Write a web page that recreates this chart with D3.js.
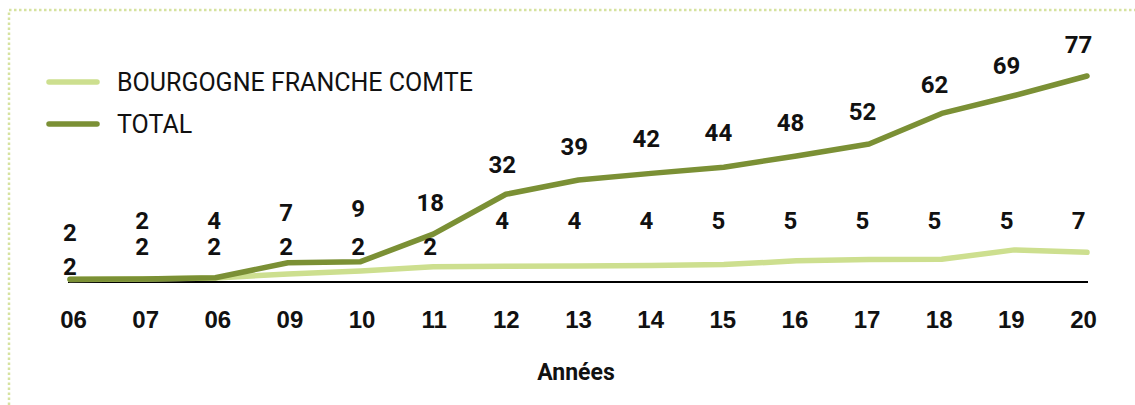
<!DOCTYPE html>
<html lang="fr">
  <head>
    <meta charset="utf-8">
    <title>Bourgogne Franche Comte vs Total</title>
    <script src="https://d3js.org/d3.v7.min.js"></script>
    <style>
      body {
        margin: 0;
        background: #ffffff;
      }
      svg {
        display: block;
        font-family: 'Roboto', 'Open Sans', sans-serif;
      }
      .num {
        font-weight: 700;
        font-size: 24px;
        fill: #111;
      }
    </style>
  </head>
  <body>
    <script>
      // data
      const years = ["06", "07", "06", "09", "10", "11", "12", "13", "14", "15", "16", "17", "18", "19", "20"];
      const totalLabels = [2, 2, 4, 7, 9, 18, 32, 39, 42, 44, 48, 52, 62, 69, 77];
      const bfcLabels = [2, 2, 2, 2, 2, 2, 4, 4, 4, 5, 5, 5, 5, 5, 7];
      // line heights as drawn (they do not follow the labels exactly)
      const totalLine = [1.0, 1.1, 1.6, 7.2, 7.6, 17.9, 32.8, 38.1, 40.6, 42.9, 47.1, 51.6, 63, 69.7, 77];
      const bfcLine = [0.9, 1.1, 1.5, 3.0, 4.1, 5.7, 5.9, 6.0, 6.2, 6.5, 7.9, 8.4, 8.5, 12, 11.1];
      const seriesNames = ["BOURGOGNE FRANCHE COMTE", "TOTAL"];

      const w = 1135;
      const h = 405;
      const lightGreen = "#cddf8f";
      const darkGreen = "#7b9035";

      const svg = d3.select("body").append("svg")
        .attr("width", w)
        .attr("height", h);

      // dotted frame (right and bottom edges run off the picture)
      svg.append("rect")
        .attr("x", 9).attr("y", 10)
        .attr("width", w + 20).attr("height", h + 20)
        .attr("fill", "none")
        .attr("stroke", "#d6e29f")
        .attr("stroke-width", 2.5)
        .attr("stroke-dasharray", "2.5 2.5");

      const x = d3.scalePoint()
        .domain(d3.range(years.length))
        .range([70, 1087]);

      const y = d3.scaleLinear()
        .domain([0, 77])
        .range([282, 76]);

      // baseline
      svg.append("line")
        .attr("x1", 68).attr("x2", 1088)
        .attr("y1", y(0)).attr("y2", y(0))
        .attr("stroke", "#000")
        .attr("stroke-width", 2);

      // x tick labels
      const xAxis = svg.append("g")
        .attr("transform", `translate(0,${y(0)})`)
        .call(d3.axisBottom(x).tickSize(0).tickPadding(46).tickFormat(i => years[i]));
      xAxis.select(".domain").remove();
      xAxis.selectAll("text")
        .attr("class", "num")
        .attr("font-family", null)
        .attr("font-size", null)
        .attr("fill", null)
        .attr("dy", "0")
        .attr("transform", (d, i) => `translate(${3 - i * 0.5},0)`);

      const line = d3.line()
        .x((d, i) => x(i))
        .y(d => y(d));

      svg.append("path")
        .datum(bfcLine)
        .attr("d", line)
        .attr("fill", "none")
        .attr("stroke", lightGreen)
        .attr("stroke-width", 5.5)
        .attr("stroke-linecap", "round")
        .attr("stroke-linejoin", "round");

      svg.append("path")
        .datum(totalLine)
        .attr("d", line)
        .attr("fill", "none")
        .attr("stroke", darkGreen)
        .attr("stroke-width", 5.5)
        .attr("stroke-linecap", "round")
        .attr("stroke-linejoin", "round");

      // data labels, nudged like the original to avoid collisions
      const earlyTotalY = [233, 221, 221, 213, 209];
      const labelX = i => x(i) - i * 0.6;
      const totalLabelY = (v, i) => i < earlyTotalY.length ? earlyTotalY[i] : y(v) - 31;
      const bfcLabelY = (v, i) => i === 0 ? 267 : (v <= 2 ? 247 : 221);

      svg.append("g").selectAll("text")
        .data(totalLabels)
        .join("text")
        .attr("class", "num")
        .attr("text-anchor", "middle")
        .attr("dominant-baseline", "central")
        .attr("x", (d, i) => labelX(i))
        .attr("y", (d, i) => totalLabelY(d, i))
        .text(d => d);

      svg.append("g").selectAll("text")
        .data(bfcLabels)
        .join("text")
        .attr("class", "num")
        .attr("text-anchor", "middle")
        .attr("dominant-baseline", "central")
        .attr("x", (d, i) => labelX(i))
        .attr("y", (d, i) => bfcLabelY(d, i))
        .text(d => d);

      // axis title
      svg.append("text")
        .attr("x", 576).attr("y", 380)
        .attr("text-anchor", "middle")
        .attr("font-weight", 700)
        .attr("font-size", 23)
        .attr("fill", "#111")
        .text("Années");

      // legend
      const legend = svg.append("g")
        .selectAll("g")
        .data(seriesNames)
        .join("g")
        .attr("transform", (d, i) => `translate(49,${82 + i * 42})`);

      legend.append("line")
        .attr("x1", 0).attr("x2", 48)
        .attr("stroke", (d, i) => i === 0 ? lightGreen : darkGreen)
        .attr("stroke-width", 5.5)
        .attr("stroke-linecap", "round");

      legend.append("text")
        .attr("x", 68)
        .attr("y", 9)
        .attr("font-size", 25)
        .attr("fill", "#111")
        .text(d => d);
    </script>
  </body>
</html>
